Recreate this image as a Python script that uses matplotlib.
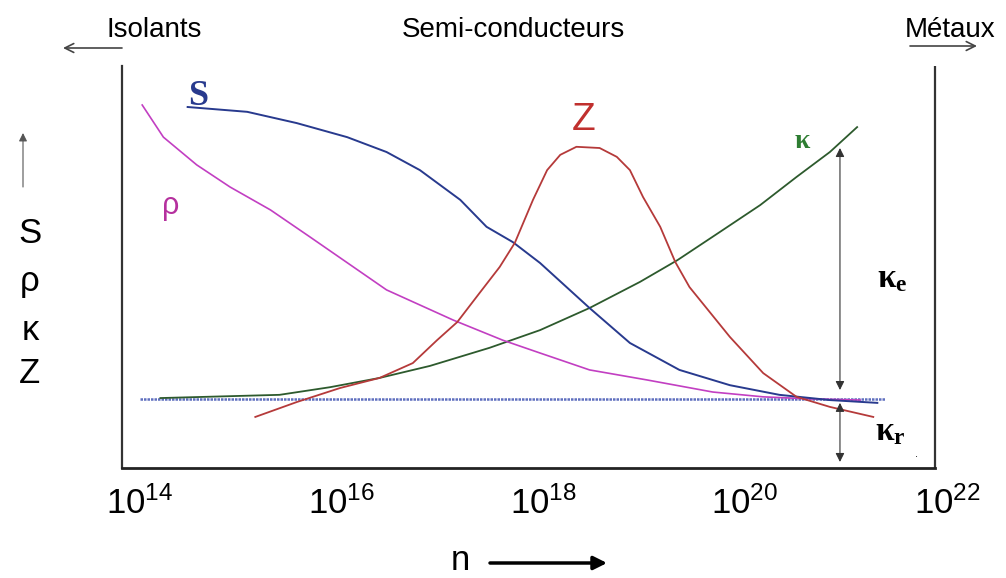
import numpy as np
import matplotlib
matplotlib.use('Agg')
import matplotlib.pyplot as plt
from matplotlib.ticker import NullLocator

plt.rcParams['font.family'] = ['Liberation Sans', 'DejaVu Sans']

# curves: log10(n) and height in arbitrary units (0-100)
s_logn = [14.48, 15.07, 15.56, 16.06, 16.45, 16.78, 17.18, 17.44, 17.70, 17.97, 18.46, 18.86, 19.35,
          19.85, 20.34, 20.84, 21.31]
s_val = [89.8, 88.6, 85.8, 82.3, 78.6, 74.1, 66.7, 60.0, 56.2, 51.0, 39.8, 31.1, 24.4,
         20.6, 18.2, 16.9, 16.2]

rho_logn = [14.03, 14.24, 14.57, 14.90, 15.30, 15.69, 16.45, 17.11, 17.60, 17.97, 18.46, 19.03, 19.68,
            20.18, 20.64, 21.14]
rho_val = [90.3, 82.3, 75.4, 69.9, 64.2, 57.5, 44.3, 36.8, 31.8, 28.6, 24.4, 21.9, 18.9,
           17.7, 17.2, 16.9]

z_logn = [15.15, 15.56, 15.99, 16.38, 16.71, 16.95, 17.15, 17.37, 17.57, 17.72, 17.90, 18.04, 18.17,
          18.33, 18.56, 18.73, 18.86, 18.99, 19.16, 19.31, 19.45, 19.85, 20.18, 20.51, 20.84, 21.27]
z_val = [12.7, 16.4, 19.9, 22.4, 26.1, 31.8, 36.3, 43.5, 50.0, 56.0, 66.7, 74.1, 77.9,
         79.9, 79.6, 77.4, 74.1, 67.4, 60.0, 51.2, 45.0, 32.6, 23.6, 17.7, 15.2, 12.7]

kappa_logn = [14.21, 15.39, 15.89, 16.38, 16.88, 17.47, 17.97, 18.46, 18.96, 19.33, 19.75, 20.15, 20.51,
              20.84, 21.11]
kappa_val = [17.4, 18.2, 20.1, 22.4, 25.4, 29.9, 34.3, 39.8, 46.3, 51.7, 58.7, 65.4, 72.4,
             78.6, 84.8]

# lattice part (kappa_r), flat baseline
base_val = 17.2
base_range = [14.01, 21.39]

# kappa_e / kappa_r brackets
bracket_logn = 20.94
ke_range = [79.6, 19.4]
kr_range = [16.2, 1.5]

exps = [14, 16, 18, 20, 22]
x_lo, x_hi, x_frame = 13.83, 22.0, 21.88

W, H = 1006, 578


def ftext(px, py, s, **kw):
    fig.text(px / W, 1 - py / H, s, **kw)


def farrow(p0, p1, **kw):
    fig.add_artist(matplotlib.patches.FancyArrowPatch(
        (p0[0] / W, 1 - p0[1] / H), (p1[0] / W, 1 - p1[1] / H),
        transform=fig.transFigure, shrinkA=0, shrinkB=0, **kw))


fig = plt.figure(figsize=(W / 100, H / 100), dpi=100)
ax = fig.add_axes([122 / W, 110 / H, 825 / W, 402 / H])
ax.set_xscale('log')
ax.set_xlim(10.0 ** x_lo, 10.0 ** x_hi)
ax.set_ylim(0, 100)

ax.hlines(base_val, 10.0 ** base_range[0], 10.0 ** base_range[1], colors='#5f6fbf', lw=1.8,
          linestyles=(0, (1, 0.4)))
ax.plot(10.0 ** np.array(kappa_logn), kappa_val, color='#2d5a2d', lw=1.3, solid_joinstyle='round')
ax.plot(10.0 ** np.array(rho_logn), rho_val, color='#c23fc2', lw=1.2, solid_joinstyle='round')
ax.plot(10.0 ** np.array(s_logn), s_val, color='#283a8e', lw=1.4, solid_joinstyle='round')
ax.plot(10.0 ** np.array(z_logn), z_val, color='#b53a3a', lw=1.3, solid_joinstyle='round')

for y0, y1 in (ke_range, kr_range):
    ax.annotate('', xy=(10.0 ** bracket_logn, y0), xytext=(10.0 ** bracket_logn, y1),
                arrowprops=dict(arrowstyle='<|-|>', color='#333333', lw=0.8,
                                mutation_scale=13, shrinkA=0, shrinkB=0))

ax.set_xticks(10.0 ** np.array(exps))
ax.set_xticklabels([r'$\mathregular{10^{%d}}$' % e for e in exps], fontsize=25)
ax.xaxis.set_minor_locator(NullLocator())
ax.tick_params(axis='x', length=0, pad=13)
ax.set_yticks([])

ax.spines['top'].set_visible(False)
ax.spines['right'].set_visible(False)
ax.spines['left'].set_color('#333333')
ax.spines['left'].set_linewidth(1.6)
ax.spines['bottom'].set_color('#222222')
ax.spines['bottom'].set_linewidth(2)
ax.spines['bottom'].set_bounds(10.0 ** x_lo, 10.0 ** x_frame)
ax.axvline(10.0 ** x_frame, color='#333333', lw=1.6)

# curve labels
ftext(198, 105, 'S', fontsize=26, family='Liberation Serif', weight='bold', color='#283a8e',
      ha='center', va='baseline')
ftext(171, 214, 'ρ', fontsize=22, color='#b5309e', ha='center', va='baseline')
ftext(584, 130, 'Z', fontsize=28, color='#c0302e', ha='center', va='baseline')
ftext(802, 148, 'κ', fontsize=20, family='Liberation Serif', weight='bold', color='#2e7d32',
      ha='center', va='baseline')
ftext(892, 287, r'$\mathregular{κ_e}$', fontsize=24, family='Liberation Serif', weight='bold',
      ha='center', va='baseline')
ftext(890, 440, r'$\mathregular{κ_r}$', fontsize=24, family='Liberation Serif', weight='bold',
      ha='center', va='baseline')
ftext(916, 457, '.', fontsize=8, ha='center', va='baseline')

# region labels on top
ftext(154, 30, 'Isolants', fontsize=20, ha='center', va='center')
ftext(513, 30, 'Semi-conducteurs', fontsize=20, ha='center', va='center')
ftext(950, 30, 'Métaux', fontsize=20, ha='center', va='center')
farrow((122, 48), (63, 48), arrowstyle='->', color='#444444', lw=1.2, mutation_scale=16)
farrow((910, 46), (977, 46), arrowstyle='->', color='#444444', lw=1.2, mutation_scale=16)

# y axis label: S rho kappa Z with an arrow
farrow((23, 187), (23, 133), arrowstyle='-|>', color='#555555', lw=0.8, mutation_scale=12)
for letter, py in (('S', 243), ('ρ', 291), ('κ', 340), ('Z', 383)):
    ftext(30, py, letter, fontsize=25, ha='center', va='baseline')

# x axis label
ftext(460, 570, 'n', fontsize=25, ha='center', va='baseline')
farrow((490, 563), (607, 563), arrowstyle='-|>', color='black', lw=2.5, mutation_scale=20)

fig.savefig('out.png', dpi=100)
